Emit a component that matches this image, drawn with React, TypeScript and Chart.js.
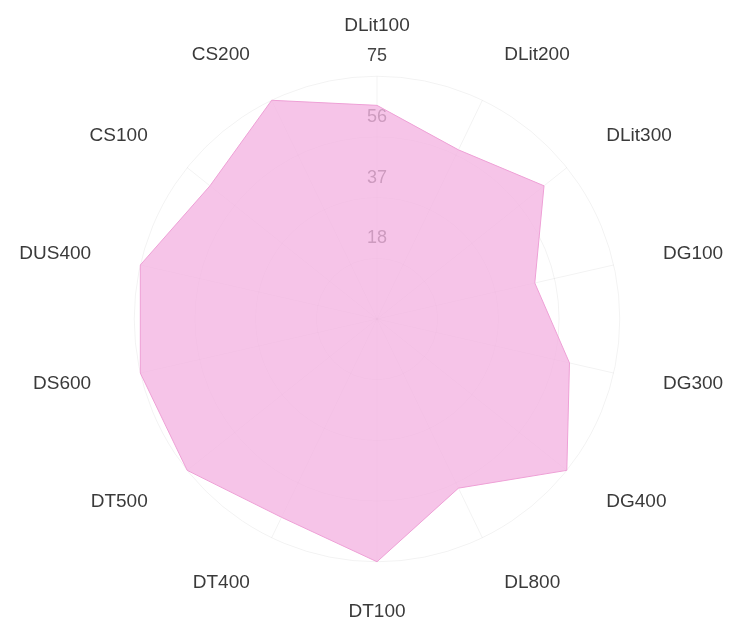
import React, { useEffect, useRef } from 'react';
import { Chart, registerables } from 'chart.js';

Chart.register(...registerables);

const CATEGORIES = ['DLit100', 'DLit200', 'DLit300', 'DG100', 'DG300', 'DG400', 'DL800', 'DT100', 'DT400', 'DT500', 'DS600', 'DUS400', 'CS100', 'CS200'];
const VALUES = [66, 58, 66, 50, 61, 75, 58, 75, 68, 75, 75, 75, 66, 75];
const TICK_VALUES = [18.75, 37.5, 56.25, 75];
const TICK_LABELS = ['18', '37', '56', '75'];
const AXIS_MIN = 0;
const AXIS_MAX = 75;
const AXIS_STEP = 18.75;

// tick labels in the reference sit a little outside their rings
const TICK_LABEL_LIFT = 6.2;

const FONT_FAMILY = '"Liberation Sans", Arial, Helvetica, sans-serif';

export default function App() {
  const canvasRef = useRef<HTMLCanvasElement | null>(null);

  useEffect(() => {
    document.body.style.margin = '0';
    const canvas = canvasRef.current;
    if (!canvas) return;

    const pointLabelsCommon = {
      font: { size: 19, family: FONT_FAMILY, lineHeight: 0 },
      padding: 39.5,
    };
    const tickFont = { size: 18, family: FONT_FAMILY };

    const chart = new Chart(canvas, {
      type: 'radar',
      data: {
        labels: CATEGORIES,
        datasets: [
          {
            data: VALUES,
            rAxisID: 'r',
            backgroundColor: 'rgba(243, 180, 226, 0.78)',
            borderColor: 'rgba(238, 160, 214, 1)',
            borderWidth: 1,
            pointRadius: 0,
            pointHoverRadius: 0,
            fill: true,
          },
        ],
      },
      options: {
        animation: false,
        responsive: true,
        maintainAspectRatio: false,
        layout: { padding: { top: 24, left: 14, right: 0, bottom: 8 } },
        plugins: {
          legend: { display: false },
          tooltip: { enabled: false },
        },
        scales: {
          r: {
            type: 'radialLinear',
            min: AXIS_MIN,
            max: AXIS_MAX,
            ticks: {
              stepSize: AXIS_STEP,
              display: true,
              color: 'rgba(0,0,0,0)',
              font: tickFont,
              showLabelBackdrop: false,
            },
            grid: { circular: true, color: 'rgba(0,0,0,0.05)', lineWidth: 1 },
            angleLines: { color: 'rgba(0,0,0,0.05)', lineWidth: 1 },
            pointLabels: { ...pointLabelsCommon, color: '#3a3a3a' },
          },
          r2: {
            type: 'radialLinear',
            min: AXIS_MIN - TICK_LABEL_LIFT,
            max: AXIS_MAX - TICK_LABEL_LIFT,
            afterBuildTicks: (scale: any) => {
              scale.ticks = TICK_VALUES.map((v) => ({ value: v }));
            },
            ticks: {
              display: true,
              color: '#444',
              font: tickFont,
              showLabelBackdrop: false,
              callback: (_v: any, i: number) => TICK_LABELS[i],
            },
            grid: { display: false },
            angleLines: { display: false },
            pointLabels: { ...pointLabelsCommon, color: 'rgba(0,0,0,0)' },
          },
        } as any,
      },
    });

    return () => {
      chart.destroy();
    };
  }, []);

  return (
    <div style={{ position: 'relative', width: '730px', height: '623px' }}>
      <canvas ref={canvasRef} />
    </div>
  );
}
